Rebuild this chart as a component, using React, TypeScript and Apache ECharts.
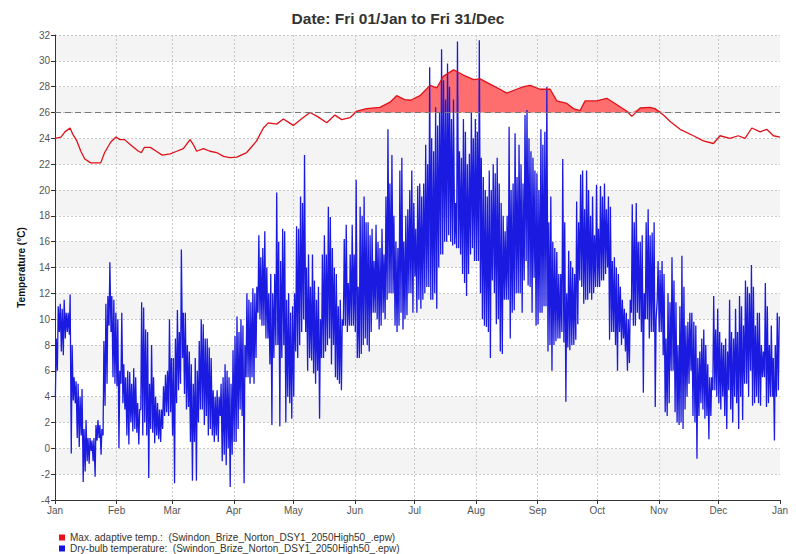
import React, { useEffect, useRef } from 'react';
import * as echarts from 'echarts';

// ---- x axis (day of year) ----
const monthLabels = ['Jan', 'Feb', 'Mar', 'Apr', 'May', 'Jun', 'Jul', 'Aug', 'Sep', 'Oct', 'Nov', 'Dec', 'Jan'];
const monthStartDays = [0, 31, 59, 90, 120, 151, 181, 212, 243, 273, 304, 334, 365];

// ---- y axis ----
const yMin = -4;
const yMax = 32;
const yStep = 2;
const comfortLimit = 26;

// ---- Max. adaptive temp. (day of year, °C) ----
const adaptiveDays = [0, 3, 5, 7.6, 9, 11, 13, 15, 18, 23, 25, 28, 30.7, 32.7, 35, 38, 42, 43.5, 45, 48, 51, 54, 58, 61.3, 64.6, 68, 69.7, 71.3, 74.7, 78, 81.4, 84.8, 88, 91.5, 96.5, 101.5, 104.9, 107.4, 111.6, 115, 118, 120, 124, 128.4, 132, 136.8, 140.9, 144.4, 148.5, 151.9, 156.9, 163.6, 168.7, 172, 176, 179, 183.8, 188.8, 192.2, 195.5, 200.6, 205.6, 210.7, 214, 219, 224, 227.4, 232.4, 236, 239.2, 244.2, 249.3, 252.6, 257.7, 261, 264.3, 266.9, 272.7, 277.8, 282.9, 287.9, 290.4, 294.6, 299.6, 302, 306.3, 309.7, 314.7, 321.4, 326.4, 331.5, 334.8, 339.8, 344, 347.4, 350.8, 355, 358.3, 361.7, 365];
const adaptiveTemps = [24.0, 24.1, 24.5, 24.8, 24.3, 23.8, 23.0, 22.4, 22.1, 22.1, 22.9, 23.7, 24.1, 23.9, 23.9, 23.5, 23.0, 22.9, 23.3, 23.3, 23.0, 22.7, 22.8, 23.0, 23.2, 23.9, 23.5, 23.0, 23.2, 23.0, 22.9, 22.6, 22.5, 22.55, 22.9, 23.8, 24.8, 25.2, 25.1, 25.5, 25.2, 25.0, 25.5, 26.0, 25.7, 25.2, 25.8, 25.45, 25.6, 26.1, 26.3, 26.4, 26.8, 27.3, 27.0, 26.95, 27.3, 28.1, 27.9, 28.8, 29.3, 28.9, 28.55, 28.6, 28.2, 27.8, 27.5, 27.8, 28.0, 28.1, 27.8, 27.8, 26.9, 26.7, 26.3, 26.15, 26.9, 26.9, 27.1, 26.6, 26.1, 25.7, 26.35, 26.4, 26.3, 25.8, 25.3, 24.7, 24.2, 23.8, 23.6, 24.2, 24.0, 24.2, 24.0, 24.8, 24.5, 24.7, 24.2, 24.1];

// ---- Dry-bulb temperature: daily minimum / maximum (°C), Jan 1 .. Dec 31 ----
const dailyMin = [
  // Jan
  4.0, 6.0, 9.0, 7.5, 7.2, 8.5, 9.0, 8.8, -0.4, 3.7, 3.5, 0.8, 0.1, 1.0, -2.6, -1.8, -1.0, -1.2, -0.2, -1.0, -2.2, 0.6, 0.8, -0.5, 1.0, 3.3, 5.0, 9.5, 9.0, 5.5, 5.0,
  // Feb
  4.8, 0.0, 5.0, 3.5, 3.0, 1.0, 0.3, 2.0, 1.3, 1.5, 1.2, 0.3, 3.0, 1.0, 2.0, 1.0, -2.3, 1.5, 1.2, 0.4, 1.0, 0.7, 0.5, 1.5, 2.5, 2.8, 2.5, 2.8,
  // Mar
  1.0, -2.7, 3.5, 4.5, 5.0, 7.0, 4.2, 3.0, 3.2, 0.5, -2.5, 0.5, -2.5, 2.0, 3.0, 3.0, 1.8, 2.5, 1.0, 1.5, 1.0, 0.5, 1.0, 0.5, 2.5, -1.0, -0.5, -1.3, 0.0, -3.0, -0.5,
  // Apr
  0.5, 0.5, 1.5, 3.0, 2.5, -2.7, 5.5, 5.5, 5.0, 5.5, 5.0, 7.0, 10.5, 10.0, 9.5, 9.5, 8.5, 8.5, 6.5, 1.8, 7.0, 8.0, 8.0, 1.7, 7.0, 8.0, 2.0, 4.0, 3.5, 2.3,
  // May
  4.0, 7.5, 7.0, 8.0, 9.0, 10.0, 9.0, 6.0, 7.0, 6.8, 5.8, 5.0, 6.0, 2.3, 7.0, 7.0, 7.5, 8.0, 8.5, 6.5, 8.0, 5.5, 5.3, 5.0, 4.5, 9.5, 9.5, 9.0, 9.5, 9.5, 9.5,
  // Jun
  9.0, 7.0, 7.0, 7.3, 8.0, 8.5, 8.0, 7.5, 9.0, 10.5, 10.5, 10.0, 9.2, 9.5, 10.5, 10.0, 11.5, 12.0, 12.0, 12.0, 9.5, 9.0, 9.5, 10.5, 9.2, 10.0, 10.3, 12.0, 12.0, 10.5,
  // Jul
  13.3, 10.5, 11.5, 10.8, 11.5, 12.0, 12.5, 12.5, 11.5, 11.5, 12.0, 10.8, 14.0, 15.0, 15.0, 16.0, 16.0, 16.5, 16.0, 15.7, 15.8, 15.5, 15.5, 15.0, 13.5, 12.8, 11.8, 13.5, 15.0, 15.5, 14.5,
  // Aug
  14.5, 14.5, 12.0, 10.0, 9.5, 9.4, 9.0, 7.0, 13.0, 12.0, 9.6, 10.0, 7.5, 7.3, 11.5, 11.5, 11.5, 8.5, 10.5, 10.7, 12.0, 12.0, 12.0, 10.5, 13.0, 14.5, 12.6, 12.5, 10.5, 13.2, 9.5,
  // Sep
  9.6, 10.5, 10.5, 11.0, 11.0, 7.5, 8.0, 6.0, 8.0, 8.3, 8.5, 8.5, 9.0, 8.2, 3.6, 7.8, 7.6, 8.0, 8.0, 8.4, 9.6, 13.0, 12.5, 11.2, 11.5, 11.5, 12.0, 11.5, 12.0, 12.5,
  // Oct
  12.5, 12.5, 13.0, 13.0, 13.5, 14.0, 8.4, 9.0, 9.0, 8.0, 6.0, 9.0, 8.0, 8.5, 7.5, 6.0, 6.6, 10.5, 9.5, 9.5, 10.5, 10.0, 9.0, 4.3, 10.0, 10.0, 8.5, 9.0, 9.0, 3.2, 11.5,
  // Nov
  9.0, 9.0, 7.2, 2.8, 2.5, 3.5, 6.0, 6.0, 2.8, 2.0, 1.8, 2.0, 1.5, 3.0, 4.0, 5.0, 6.0, 2.5, 2.0, -0.8, 2.5, 3.5, 3.0, 2.3, 2.5, 0.7, 2.5, 4.5, 4.5, 4.0,
  // Dec
  3.5, 3.0, 4.0, 2.5, 1.5, 4.5, 3.0, 2.0, 4.0, 3.5, 1.5, 4.0, 2.2, 5.0, 5.0, 4.0, 6.0, 3.3, 3.5, 4.0, 3.5, 3.3, 5.5, 5.5, 3.2, 3.5, 4.0, 4.0, 0.6, 4.0, 4.5,
];
const dailyMax = [
  // Jan
  8.5, 11.0, 11.2, 10.8, 11.5, 10.5, 10.5, 11.9, 8.0, 5.5, 5.2, 5.0, 4.0, 4.6, 1.5, 2.2, 0.8, 0.8, 0.6, 0.8, 1.8, 2.2, 1.8, 1.5, 8.3, 11.2, 11.8, 14.4, 11.8, 11.5, 10.5,
  // Feb
  10.0, 6.0, 10.5, 6.5, 5.5, 6.0, 5.9, 5.0, 6.2, 5.5, 3.5, 3.0, 11.3, 10.9, 9.2, 9.0, 5.0, 8.0, 5.5, 4.0, 3.5, 3.0, 3.0, 4.8, 5.7, 6.0, 10.0, 7.0,
  // Mar
  7.0, 8.5, 10.7, 9.0, 15.4, 10.5, 10.5, 8.0, 7.5, 6.5, 5.0, 7.0, 6.0, 8.3, 10.0, 9.6, 8.5, 8.5, 7.8, 7.0, 4.5, 4.0, 4.5, 4.0, 5.0, 5.5, 6.5, 6.0, 5.5, 5.0, 7.6,
  // Apr
  8.7, 10.2, 9.0, 10.0, 9.5, 8.0, 12.0, 11.5, 11.3, 12.4, 12.0, 12.5, 16.5, 14.8, 15.5, 16.8, 14.0, 12.0, 13.5, 12.0, 13.5, 19.8, 16.0, 14.5, 17.0, 16.8, 11.5, 12.0, 10.5, 11.0,
  // May
  12.0, 17.2, 17.0, 19.5, 19.0, 22.7, 14.0, 15.0, 12.5, 15.0, 13.0, 11.5, 12.5, 10.0, 15.0, 16.5, 15.0, 18.7, 17.9, 15.5, 14.0, 13.5, 11.0, 11.5, 10.0, 16.2, 17.3, 12.8, 15.0, 17.3, 15.0,
  // Jun
  20.8, 12.5, 18.7, 18.0, 19.5, 17.5, 17.5, 16.5, 17.0, 14.5, 17.3, 16.0, 15.5, 17.0, 15.0, 19.5, 24.7, 20.5, 22.7, 18.0, 16.0, 15.5, 21.5, 22.5, 16.0, 18.0, 18.5, 20.0, 21.5, 19.0,
  // Jul
  17.0, 20.3, 20.5, 19.5, 20.5, 23.5, 22.0, 29.5, 24.0, 23.0, 26.4, 25.0, 26.0, 30.9, 28.5, 27.0, 29.8, 28.0, 25.5, 27.0, 19.0, 31.5, 23.0, 22.5, 25.5, 24.5, 22.0, 22.8, 26.0, 24.0, 25.5,
  // Aug
  24.5, 31.6, 22.5, 21.0, 20.0, 19.5, 21.5, 20.0, 22.0, 21.3, 22.5, 20.5, 19.0, 18.0, 16.8, 18.0, 24.9, 20.0, 20.5, 24.4, 21.0, 23.5, 22.0, 20.5, 25.8, 26.2, 24.0, 23.0, 22.5, 21.5, 21.3,
  // Sep
  20.0, 24.7, 23.5, 24.5, 28.0, 17.5, 19.5, 16.0, 15.5, 15.2, 13.5, 13.5, 22.4, 17.5, 12.0, 15.3, 14.5, 14.0, 13.5, 19.1, 17.5, 21.2, 21.5, 18.5, 21.5, 20.0, 18.0, 19.5, 16.5, 20.4,
  // Oct
  17.0, 20.3, 19.5, 20.5, 18.5, 19.5, 18.7, 14.5, 14.8, 14.0, 13.5, 12.5, 11.5, 10.8, 10.5, 10.0, 11.5, 18.9, 17.5, 19.0, 16.0, 16.0, 16.5, 12.0, 17.5, 18.5, 16.5, 16.7, 17.5, 10.0, 14.5,
  // Nov
  13.8, 14.5, 13.5, 8.5, 12.0, 11.3, 14.8, 13.0, 11.3, 8.0, 11.0, 14.9, 12.5, 9.5, 9.8, 10.5, 10.5, 9.8, 9.5, 7.0, 7.5, 8.5, 9.2, 8.0, 6.5, 5.5, 5.5, 11.8, 9.2, 10.8,
  // Dec
  9.0, 8.2, 8.0, 8.5, 7.5, 11.5, 9.0, 8.5, 10.8, 9.0, 11.8, 11.0, 9.5, 13.0, 12.5, 12.0, 14.2, 12.5, 9.5, 10.5, 10.5, 8.0, 7.5, 12.8, 11.0, 8.0, 9.5, 7.0, 8.0, 10.5, 10.2,
];

const adaptiveName = 'Max. adaptive temp.:  (Swindon_Brize_Norton_DSY1_2050High50_.epw)';
const dryBulbName = 'Dry-bulb temperature:  (Swindon_Brize_Norton_DSY1_2050High50_.epw)';
const titleText = 'Date: Fri 01/Jan to Fri 31/Dec';
const yAxisTitle = 'Temperature (°C)';

const FONT = '"Liberation Sans", Arial, sans-serif';

export default function App() {
  const ref = useRef<HTMLDivElement>(null);

  useEffect(() => {
    if (!ref.current) return;
    const chart = echarts.init(ref.current, undefined, { renderer: 'svg' });

    const adaptiveData = adaptiveDays.map((d, i) => [d, adaptiveTemps[i]]);
    const fillData = adaptiveDays.map((d, i) => [d, Math.max(adaptiveTemps[i], comfortLimit)]);
    const dryBulbData: number[][] = [];
    dailyMin.forEach((mn, d) => {
      dryBulbData.push([d + 0.2, mn]);
      dryBulbData.push([d + 0.62, dailyMax[d]]);
    });

    const catDays = Array.from({ length: 366 }, (_, i) => String(i));
    const isMonthStart = (i: number) => monthStartDays.indexOf(i) >= 0;

    chart.setOption({
      animation: false,
      backgroundColor: '#ffffff',
      title: {
        text: titleText,
        left: 'center',
        top: 5,
        textStyle: { fontFamily: FONT, fontSize: 15.5, fontWeight: 'bold', color: '#333' },
      },
      legend: {
        orient: 'vertical',
        left: 54,
        top: 527,
        height: 28,
        itemGap: 0,
        itemWidth: 6,
        itemHeight: 6,
        icon: 'rect',
        data: [adaptiveName, dryBulbName],
        textStyle: { fontFamily: FONT, fontSize: 10, color: '#333', lineHeight: 11 },
      },
      grid: { left: 55, right: 16, top: 35, bottom: 54, containLabel: false },
      xAxis: [
        {
          type: 'value',
          min: 0,
          max: 365,
          show: false,
        },
        {
          type: 'category',
          data: catDays,
          boundaryGap: false,
          position: 'bottom',
          axisLine: { show: true, lineStyle: { color: '#333', width: 1 } },
          axisTick: { show: true, interval: (i: number) => isMonthStart(i), length: 4, lineStyle: { color: '#333' } },
          axisLabel: {
            interval: (i: number) => isMonthStart(i),
            formatter: (_v: string, i: number) => {
              const k = monthStartDays.indexOf(i);
              return k >= 0 ? monthLabels[k] : '';
            },
            fontFamily: FONT,
            fontSize: 10,
            color: '#555',
            margin: 5,
          },
          splitLine: {
            show: true,
            interval: (i: number) => isMonthStart(i) && i > 0 && i < 365,
            lineStyle: { color: '#c8c8c8', type: [2, 2], width: 1 },
          },
        },
      ],
      yAxis: {
        type: 'value',
        min: yMin,
        max: yMax,
        interval: yStep,
        name: yAxisTitle,
        nameLocation: 'middle',
        nameGap: 29,
        nameRotate: 90,
        nameTextStyle: { fontFamily: FONT, fontSize: 10, fontWeight: 'bold', color: '#111' },
        axisLine: { show: true, lineStyle: { color: '#333', width: 1 } },
        axisTick: { show: true, length: 4, lineStyle: { color: '#333' } },
        axisLabel: { fontFamily: FONT, fontSize: 10, color: '#555', margin: 5 },
        splitLine: { show: true, lineStyle: { color: '#c8c8c8', type: [2, 2], width: 1 } },
        splitArea: { show: true, areaStyle: { color: ['#ffffff', '#f4f4f4'] } },
      },
      series: [
        {
          name: 'adaptiveFill',
          type: 'line',
          xAxisIndex: 0,
          data: fillData,
          showSymbol: false,
          silent: true,
          lineStyle: { width: 0, opacity: 0 },
          areaStyle: { color: '#ff6e6e', opacity: 1, origin: comfortLimit },
          z: 1,
        },
        {
          name: dryBulbName,
          type: 'line',
          xAxisIndex: 0,
          data: dryBulbData,
          showSymbol: false,
          color: '#1414dc',
          lineStyle: { color: '#1a1ae0', width: 1.3 },
          z: 2,
        },
        {
          name: adaptiveName,
          type: 'line',
          xAxisIndex: 0,
          data: adaptiveData,
          showSymbol: false,
          color: '#e8101a',
          lineStyle: { color: '#e01018', width: 1.3 },
          markLine: {
            silent: true,
            symbol: ['none', 'none'],
            label: { show: false },
            lineStyle: { color: '#777', type: [6, 4], width: 1 },
            data: [{ yAxis: comfortLimit }],
          },
          z: 3,
        },
      ],
    });

    return () => chart.dispose();
  }, []);

  return (
    <div
      ref={ref}
      style={{ position: 'absolute', left: 0, top: 0, width: 796, height: 554 }}
    />
  );
}
